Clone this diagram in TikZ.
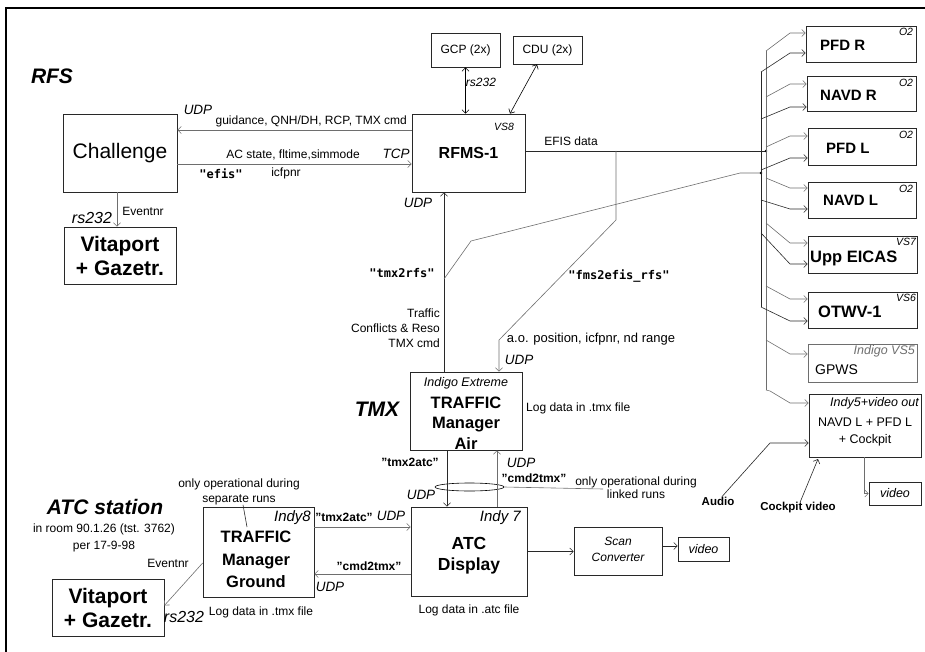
\documentclass[tikz,border=0pt]{standalone}
\usepackage{fontspec}
\setmainfont{Liberation Sans}
\newfontfamily\monob{DejaVu Sans Mono}
\usetikzlibrary{arrows.meta,shapes.geometric}
\definecolor{lg}{RGB}{110,110,110}
\definecolor{bd}{RGB}{40,40,40}
\begin{document}
\begin{tikzpicture}[x=1pt,y=-1pt,
  arr/.style={-{Straight Barb[length=3.5pt,width=7pt]}, line width=0.6pt},
  darr/.style={{Straight Barb[length=3.5pt,width=7pt]}-{Straight Barb[length=3.5pt,width=7pt]}, line width=0.6pt},
  ln/.style={line width=0.6pt},
  box/.style={draw=bd, line width=0.75pt, inner sep=0pt},
  t/.style={inner sep=0pt, font=\fontsize{12}{14}\selectfont},
  it/.style={inner sep=0pt, font=\fontsize{13.5}{16}\selectfont\itshape},
  its/.style={inner sep=0pt, font=\fontsize{12.5}{15}\selectfont\itshape},
  itb/.style={inner sep=0pt, font=\fontsize{16}{19}\selectfont\itshape},
  mb/.style={inner sep=0pt, font={\monob\bfseries\fontsize{12}{14}\selectfont}},
  tb/.style={inner sep=0pt, font=\fontsize{12}{14}\selectfont\bfseries},
  ttl/.style={inner sep=0pt, font=\fontsize{21}{25}\selectfont\bfseries\itshape},
  tiny/.style={inner sep=0pt, font=\fontsize{10.5}{12}\selectfont\itshape},
  big/.style={inner sep=0pt, font=\fontsize{16.5}{22}\selectfont\bfseries, align=center},
  disp/.style={inner sep=0pt, font=\fontsize{15}{18}\selectfont\bfseries, anchor=west},
]
\useasboundingbox (0,0) rectangle (925,652);
% frame
\draw[line width=2pt] (6,652) -- (6,8) -- (925,8);

% boxes
\node[box,minimum width=114pt,minimum height=78pt,font=\fontsize{21}{25}\selectfont] (chal) at (120,153) {Challenge};
\node[box,minimum width=112pt,minimum height=57pt,font=\fontsize{21}{24}\selectfont\bfseries,align=center] (vitA) at (120,255.5) {Vitaport\\+ Gazetr.};
\node[box,minimum width=69pt,minimum height=34pt,font=\fontsize{12}{14}\selectfont] (gcp) at (465.5,50) {GCP (2x)};
\node[box,minimum width=69pt,minimum height=28pt,font=\fontsize{12}{14}\selectfont] (cdu) at (547.5,50) {CDU (2x)};
\node[box,minimum width=113pt,minimum height=78pt,font=\fontsize{16}{19}\selectfont\bfseries] (rfms) at (468.5,153) {RFMS-1};
\node[box,minimum width=110pt,minimum height=36pt] (pfdr) at (861,44) {};
\node[box,minimum width=109pt,minimum height=35pt] (navdr) at (861.5,93.5) {};
\node[box,minimum width=108pt,minimum height=37pt] (pfdl) at (862,146.5) {};
\node[box,minimum width=108pt,minimum height=36pt] (navdl) at (862,200) {};
\node[box,minimum width=109pt,minimum height=37pt] (eicas) at (862.5,254.5) {};
\node[box,minimum width=109pt,minimum height=36pt] (otwv) at (862.5,310) {};
\node[box,draw=lg,minimum width=109pt,minimum height=38pt] (gpws) at (862.5,363) {};
\node[box,minimum width=112pt,minimum height=63pt] (indy5) at (865,425.5) {};
\node[box,minimum width=52pt,minimum height=23pt,font=\fontsize{12.5}{15}\selectfont\itshape] (vidR) at (895,493.5) {video};
\node[box,minimum width=112pt,minimum height=78pt] (tma) at (466,411) {};
\node[box,minimum width=116pt,minimum height=89pt] (atc) at (469,551.5) {};
\node[box,minimum width=111pt,minimum height=90pt] (tmg) at (258.5,552) {};
\node[box,minimum width=112pt,minimum height=57pt,font=\fontsize{21}{24}\selectfont\bfseries,align=center] (vitB) at (108,607.5) {Vitaport\\+ Gazetr.};
\node[box,minimum width=88pt,minimum height=48pt] (scan) at (618,551) {};
\node[box,minimum width=51pt,minimum height=24pt,font=\fontsize{12.5}{15}\selectfont\itshape] (vidM) at (703.5,549) {video};

% box texts
\node[tiny] (vs8) at (504,127) {VS8};
\node[disp] (pfdrT) at (820,45) {PFD R};
\node[disp] (navdrT) at (820,95) {NAVD R};
\node[disp] (pfdlT) at (826,148) {PFD L};
\node[disp] (navdlT) at (823,200) {NAVD L};
\node[disp,font=\fontsize{16.5}{19}\selectfont\bfseries] (eicasT) at (810,258) {Upp EICAS};
\node[disp,font=\fontsize{16.5}{19}\selectfont\bfseries] (otwvT) at (818,312) {OTWV-1};
\node[inner sep=0pt,anchor=west,font=\fontsize{14}{16}\selectfont] (gpwsT) at (815,370) {GPWS};
\node[tiny] (o2a) at (906,32) {O2};
\node[tiny] (o2b) at (906,83) {O2};
\node[tiny] (o2c) at (906,135) {O2};
\node[tiny] (o2d) at (906,189) {O2};
\node[tiny] (vs7) at (906,242) {VS7};
\node[tiny] (vs6) at (906,298) {VS6};
\node[its,anchor=east,text=lg] (vs5) at (915,351) {Indigo VS5};
\node[its,anchor=east] (indy5T) at (919,403) {Indy5+video out};
\node[inner sep=0pt,align=center,font=\fontsize{12.5}{17}\selectfont] (indy5C) at (865,431.5) {NAVD L + PFD L\\+ Cockpit};
\node[its] (indext) at (466,383) {Indigo Extreme};
\node[big,font=\fontsize{16.5}{20.5}\selectfont\bfseries] (tmaT) at (466,423) {TRAFFIC\\Manager\\Air};
\node[itb,anchor=east,font=\fontsize{15}{18}\selectfont\itshape] (indy7) at (521,518) {Indy 7};
\node[big,font=\fontsize{17.5}{21}\selectfont\bfseries] (atcT) at (469,555.5) {ATC\\Display};
\node[itb,anchor=east,font=\fontsize{15}{18}\selectfont\itshape] (indy8) at (311,518) {Indy8};
\node[big,font=\fontsize{16.5}{22.5}\selectfont\bfseries] (tmgT) at (256,559.5) {TRAFFIC\\Manager\\Ground};
\node[inner sep=0pt,align=center,font=\fontsize{12}{16}\selectfont\itshape] (scanT) at (618,549) {Scan\\Converter};

% titles
\node[ttl] (rfsTitle) at (52,76) {RFS};
\node[ttl] (tmxTitle) at (377,409) {TMX};
\node[ttl] (atcTitle) at (105,507) {ATC station};
\node[t,align=center,font=\fontsize{12}{17}\selectfont] (room) at (104,537.5) {in room 90.1.26 (tst. 3762)\\per 17-9-98};

% labels
\node[it] (udp1) at (198,110) {UDP};
\node[t,anchor=east] (guid) at (407,121) {guidance, QNH/DH, RCP, TMX cmd};
\node[t] (acst) at (293,155) {AC state, fltime,simmode};
\node[it] (tcp) at (396,154) {TCP};
\node[mb] (efisq) at (221,174) {"efis"};
\node[t] (icf) at (286,173) {icfpnr};
\node[t] (ev1) at (143,211) {Eventnr};
\node[itb] (rs1) at (92,218) {rs232};
\node[t,font=\fontsize{12}{14}\selectfont\itshape] (rs2) at (481,82) {rs232};
\node[it] (udp2) at (418,203) {UDP};
\node[t] (efisd) at (571,141) {EFIS data};
\node[mb] (t2r) at (402,273) {"tmx2rfs"};
\node[t,align=right,anchor=east,font=\fontsize{12}{15}\selectfont] (traf) at (440,328) {Traffic\\Conflicts \& Reso\\TMX cmd};
\node[mb] (f2e) at (619,276) {"fms2efis\_rfs"};
\node[t,font=\fontsize{13}{15}\selectfont] (aop) at (591,339) {a.o. position, icfpnr, nd range};
\node[it] (udp3) at (519,360) {UDP};
\node[t,anchor=west] (logtmx) at (526,408) {Log data in .tmx file};
\node[tb] (t2a1) at (410,462) {"tmx2atc"};
\node[it] (udp4) at (421,495) {UDP};
\node[it] (udp5) at (521,463) {UDP};
\node[tb] (c2t1) at (534,478) {"cmd2tmx"};
\node[t,align=center,font=\fontsize{12}{13}\selectfont] (linked) at (636,487.5) {only operational during\\linked runs};
\node[t] (logatc) at (469,610) {Log data in .atc file};
\node[tb] (t2a2) at (344,517) {"tmx2atc"};
\node[it] (udp6) at (391,516) {UDP};
\node[tb] (c2t2) at (369,566) {"cmd2tmx"};
\node[it] (udp7) at (330,587) {UDP};
\node[t,align=center,font=\fontsize{12}{15}\selectfont] (sepnote) at (239,491.5) {only operational during\\separate runs};
\node[t] (logtmx2) at (261,612) {Log data in .tmx file};
\node[t] (ev2) at (168,563) {Eventnr};
\node[itb] (rs3) at (184,617) {rs232};
\node[tb,font=\fontsize{11.5}{14}\selectfont\bfseries] (audio) at (718,501) {Audio};
\node[tb,font=\fontsize{11.5}{14}\selectfont\bfseries] (cv) at (798,508) {Cockpit video};

% ellipse
\node[draw,ellipse,line width=0.6pt,minimum width=69pt,minimum height=8pt,inner sep=0pt] (ell) at (469.5,487) {};

% connectors RFS
\draw[arr,lg] ([yshift=23pt]rfms.west) -- ([yshift=23pt]chal.east);
\draw[arr,lg] ([yshift=-11pt]chal.east) -- ([yshift=-11pt]rfms.west);
\draw[arr,lg] ([xshift=-3pt]chal.south) -- ([xshift=-3pt]vitA.north);
\draw[darr] (gcp.south) -- (gcp.south |- rfms.north);
\draw[darr] ([xshift=-10.5pt]cdu.south) -- ([xshift=41.5pt]rfms.north);

% EFIS data and buses
\coordinate (dA) at (766,151);
\coordinate (jE) at (616,151);
\draw[ln,bd] ([yshift=2pt]rfms.east) -- (dA);
\fill (dA) circle (1.3pt);
\coordinate (f1) at (616,220);
\coordinate (f2) at (499,340);
\draw[arr,lg] (jE) -- (f1) -- (f2) -- (f2 |- tma.north);

\coordinate (t1) at ([xshift=-22pt]tma.north);
\draw[arr,bd] (t1) -- (t1 |- rfms.south);
\coordinate (b1) at (444,279);
\coordinate (b2) at (471,241);
\coordinate (b3) at (740,173);
\coordinate (dB) at (761,173);
\draw[ln,lg] (b1) -- (b2) -- (b3) -- (dB);
\fill (dB) circle (1.3pt);

\draw[ln,lg] (766,51) -- (766,390);
\draw[ln,bd] (761,72) -- (761,307);
\draw[arr,lg] (766,51) -- (790,33) -- (pfdr.west |- 790,33);
\draw[arr,lg] (766,97) -- (790,84) -- (navdr.west |- 790,84);
\draw[arr,lg] (766,147) -- (790,136) -- (pfdl.west |- 790,136);
\draw[arr,lg] (766,178) -- (790,188) -- (navdl.west |- 790,188);
\draw[arr,lg] (766,223) -- (790,243) -- (eicas.west |- 790,243);
\draw[arr,lg] (766,286) -- (790,299) -- (otwv.west |- 790,299);
\draw[arr,lg] (766,340) -- (790,354) -- (gpws.west |- 790,354);
\draw[arr,lg] (766,390) -- (770,391) -- (790,403) -- (indy5.west |- 790,403);
\draw[arr,bd] (761,72) -- (790,53) -- (pfdr.west |- 790,53);
\draw[arr,bd] (761,119) -- (790,107) -- (navdr.west |- 790,107);
\draw[arr,bd] (761,170) -- (790,158) -- (pfdl.west |- 790,158);
\draw[arr,bd] (761,200) -- (790,209) -- (navdl.west |- 790,209);
\draw[arr,bd] (761,233) -- (790,264) -- (eicas.west |- 790,264);
\draw[arr,bd] (761,307) -- (790,321) -- (otwv.west |- 790,321);

% TMX / ATC
\coordinate (t2) at ([xshift=-19pt]tma.south);
\draw[arr,bd] (t2) -- (t2 |- atc.north);
\coordinate (t3) at ([xshift=28pt]atc.north);
\draw[arr,lg] (t3) -- (t3 |- tma.south);
\draw[ln,lg] (ell.east) -- (603,489);
\coordinate (g1) at ([yshift=25pt]tmg.east);
\draw[arr,lg] (g1) -- (g1 -| atc.west);
\coordinate (g2) at ([yshift=-22.5pt]atc.west);
\draw[arr,lg] (g2) -- (g2 -| tmg.east);
\draw[arr,bd] (atc.east) -- (atc.east -| scan.west);
\coordinate (s1) at ([yshift=5pt]scan.east);
\draw[arr,bd] (s1) -- (s1 -| vidM.west);
\draw[arr,lg] ([yshift=-11pt]tmg.west) -- ([yshift=2pt]vitB.east);
\draw[ln,bd] ([xshift=4pt]sepnote.south) -- (247,527);

% video out
\coordinate (au) at (770,443);
\draw[arr,bd] ([xshift=4pt]audio.north) -- (au) -- (au -| indy5.west);
\coordinate (cvt) at (818,459);
\draw[arr,bd] ([xshift=2pt]cv.north) -- (cvt);
\draw[arr,lg] ([xshift=-1pt]indy5.south) -- ([xshift=-1pt]indy5.south |- vidR.west) -- (vidR.west);
\end{tikzpicture}
\end{document}
